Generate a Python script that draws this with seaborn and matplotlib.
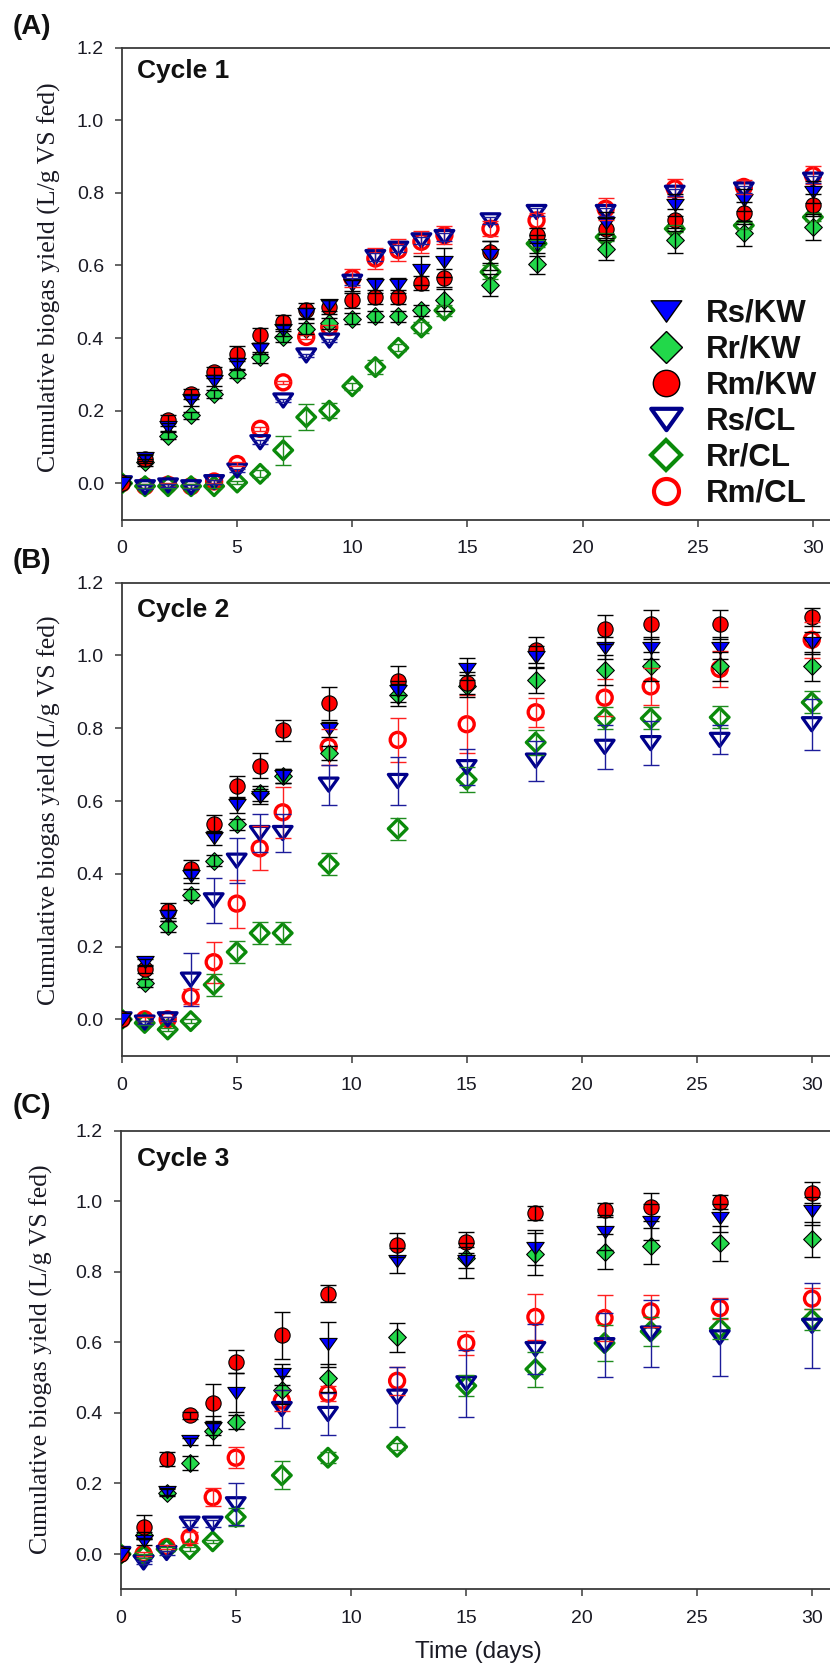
import numpy as np
import matplotlib
matplotlib.use("Agg")
import matplotlib.pyplot as plt
from matplotlib.lines import Line2D
from matplotlib.path import Path
from matplotlib.ticker import FormatStrFormatter
import seaborn as sns

sns.set_style("ticks")
plt.rcParams["font.family"] = ["Liberation Sans", "DejaVu Sans"]

# ---------------- data: cumulative biogas yield (L/g VS fed) ----------------
# Cycle 1
c1_days = [0, 1, 2, 3, 4, 5, 6, 7, 8, 9, 10, 11, 12, 13, 14, 16, 18, 21, 24, 27, 30]
c1_rs_kw = [0, 0.07, 0.155, 0.228, 0.283, 0.329, 0.37, 0.421, 0.467, 0.49, 0.545, 0.545, 0.545, 0.586, 0.609, 0.628, 0.655, 0.717, 0.766, 0.779, 0.802]
c1_rr_kw = [0, 0.058, 0.131, 0.187, 0.246, 0.301, 0.347, 0.403, 0.425, 0.44, 0.453, 0.46, 0.46, 0.476, 0.504, 0.545, 0.605, 0.646, 0.669, 0.688, 0.706]
c1_rm_kw = [0, 0.067, 0.173, 0.246, 0.306, 0.357, 0.407, 0.444, 0.476, 0.485, 0.504, 0.513, 0.513, 0.551, 0.565, 0.637, 0.683, 0.70, 0.726, 0.744, 0.766]
c1_rs_cl = [0, -0.011, -0.006, -0.011, 0.003, 0.035, 0.113, 0.228, 0.352, 0.393, 0.555, 0.623, 0.646, 0.669, 0.678, 0.724, 0.747, 0.747, 0.80, 0.809, 0.836]
c1_rr_cl = [0, -0.008, -0.008, -0.008, -0.008, 0.002, 0.026, 0.091, 0.182, 0.2, 0.267, 0.32, 0.373, 0.429, 0.476, 0.582, 0.66, 0.678, 0.701, 0.71, 0.733]
c1_rm_cl = [0, -0.008, -0.004, -0.008, 0.005, 0.053, 0.15, 0.278, 0.403, 0.43, 0.565, 0.619, 0.642, 0.665, 0.683, 0.701, 0.724, 0.756, 0.812, 0.816, 0.848]
c1_rs_kw_sd = [0, 0.01, 0.01, 0.015, 0.015, 0.015, 0.015, 0.015, 0.015, 0.015, 0.015, 0.02, 0.02, 0.04, 0.04, 0.04, 0.03, 0.03, 0.03, 0.03, 0.03]
c1_rr_kw_sd = [0, 0.01, 0.01, 0.01, 0.01, 0.01, 0.015, 0.015, 0.015, 0.015, 0.015, 0.015, 0.015, 0.015, 0.03, 0.03, 0.03, 0.03, 0.035, 0.035, 0.035]
c1_rm_kw_sd = [0, 0.01, 0.015, 0.015, 0.015, 0.02, 0.02, 0.02, 0.02, 0.02, 0.02, 0.02, 0.02, 0.02, 0.025, 0.03, 0.02, 0.03, 0.03, 0.03, 0.03]
c1_rs_cl_sd = [0, 0.005, 0.005, 0.005, 0.005, 0.005, 0.005, 0.005, 0.005, 0.005, 0.01, 0.01, 0.01, 0.01, 0.01, 0.01, 0.01, 0.01, 0.01, 0.01, 0.01]
c1_rr_cl_sd = [0, 0.005, 0.005, 0.005, 0.005, 0.005, 0.01, 0.04, 0.035, 0.02, 0.01, 0.02, 0.01, 0.015, 0.015, 0.02, 0.01, 0.01, 0.01, 0.01, 0.01]
c1_rm_cl_sd = [0, 0.005, 0.005, 0.005, 0.005, 0.005, 0.005, 0.005, 0.005, 0.005, 0.025, 0.03, 0.03, 0.03, 0.025, 0.02, 0.02, 0.03, 0.025, 0.02, 0.025]

# Cycle 2
c2_days = [0, 1, 2, 3, 4, 5, 6, 7, 9, 12, 15, 18, 21, 23, 26, 30]
c2_rs_kw = [0, 0.157, 0.285, 0.394, 0.498, 0.588, 0.612, 0.669, 0.797, 0.901, 0.963, 0.996, 1.02, 1.02, 1.02, 1.034]
c2_rr_kw = [0, 0.10, 0.256, 0.342, 0.436, 0.536, 0.621, 0.669, 0.732, 0.892, 0.915, 0.932, 0.96, 0.97, 0.97, 0.97]
c2_rm_kw = [0, 0.138, 0.299, 0.413, 0.536, 0.64, 0.697, 0.794, 0.868, 0.93, 0.925, 1.015, 1.072, 1.086, 1.086, 1.105]
c2_rs_cl = [0, -0.009, 0, 0.109, 0.327, 0.436, 0.512, 0.512, 0.645, 0.655, 0.693, 0.711, 0.749, 0.759, 0.768, 0.811]
c2_rr_cl = [0, -0.01, -0.028, -0.005, 0.095, 0.185, 0.237, 0.237, 0.427, 0.524, 0.659, 0.761, 0.827, 0.827, 0.83, 0.871]
c2_rm_cl = [0, 0, 0, 0.062, 0.157, 0.318, 0.47, 0.569, 0.749, 0.768, 0.811, 0.844, 0.884, 0.915, 0.963, 1.043]
c2_rs_kw_sd = [0, 0.01, 0.015, 0.02, 0.02, 0.02, 0.02, 0.02, 0.02, 0.03, 0.03, 0.03, 0.03, 0.03, 0.03, 0.03]
c2_rr_kw_sd = [0, 0.01, 0.015, 0.015, 0.015, 0.015, 0.02, 0.02, 0.02, 0.03, 0.03, 0.035, 0.04, 0.04, 0.04, 0.04]
c2_rm_kw_sd = [0, 0.01, 0.02, 0.025, 0.025, 0.03, 0.035, 0.03, 0.045, 0.04, 0.03, 0.035, 0.04, 0.04, 0.04, 0.025]
c2_rs_cl_sd = [0, 0.005, 0.005, 0.073, 0.062, 0.062, 0.053, 0.053, 0.055, 0.065, 0.05, 0.055, 0.06, 0.06, 0.04, 0.07]
c2_rr_cl_sd = [0, 0.005, 0.005, 0.005, 0.03, 0.03, 0.03, 0.03, 0.03, 0.03, 0.035, 0.035, 0.03, 0.03, 0.03, 0.03]
c2_rm_cl_sd = [0, 0.005, 0.005, 0.02, 0.056, 0.066, 0.06, 0.07, 0.05, 0.06, 0.08, 0.04, 0.05, 0.05, 0.05, 0.05]

# Cycle 3
c3_days = [0, 1, 2, 3, 4, 5, 7, 9, 12, 15, 18, 21, 23, 26, 30]
c3_rs_kw = [0, 0.036, 0.177, 0.319, 0.358, 0.457, 0.51, 0.594, 0.832, 0.832, 0.868, 0.912, 0.941, 0.952, 0.972]
c3_rr_kw = [0, 0.053, 0.174, 0.257, 0.35, 0.374, 0.466, 0.499, 0.614, 0.84, 0.851, 0.857, 0.873, 0.881, 0.892]
c3_rm_kw = [0, 0.077, 0.27, 0.394, 0.427, 0.545, 0.62, 0.738, 0.876, 0.884, 0.967, 0.974, 0.983, 0.997, 1.024]
c3_rs_cl = [0, -0.024, 0.003, 0.086, 0.086, 0.141, 0.411, 0.397, 0.446, 0.484, 0.581, 0.592, 0.625, 0.614, 0.647]
c3_rr_cl = [0, -0.005, 0.014, 0.014, 0.036, 0.105, 0.223, 0.273, 0.304, 0.477, 0.524, 0.598, 0.631, 0.639, 0.664]
c3_rm_cl = [0, 0.0, 0.02, 0.047, 0.161, 0.273, 0.435, 0.455, 0.491, 0.598, 0.672, 0.669, 0.688, 0.697, 0.724]
c3_rs_kw_sd = [0, 0.01, 0.01, 0.01, 0.02, 0.055, 0.03, 0.063, 0.035, 0.05, 0.05, 0.05, 0.05, 0.04, 0.04]
c3_rr_kw_sd = [0, 0.01, 0.01, 0.02, 0.04, 0.02, 0.04, 0.04, 0.04, 0.03, 0.06, 0.05, 0.05, 0.05, 0.05]
c3_rm_kw_sd = [0, 0.035, 0.02, 0.01, 0.055, 0.033, 0.067, 0.025, 0.035, 0.03, 0.02, 0.02, 0.04, 0.02, 0.03]
c3_rs_cl_sd = [0, 0.005, 0.005, 0.01, 0.01, 0.06, 0.055, 0.06, 0.085, 0.095, 0.07, 0.09, 0.095, 0.11, 0.12]
c3_rr_cl_sd = [0, 0.005, 0.005, 0.005, 0.005, 0.025, 0.04, 0.015, 0.01, 0.03, 0.05, 0.05, 0.04, 0.03, 0.03]
c3_rm_cl_sd = [0, 0.005, 0.005, 0.015, 0.025, 0.03, 0.03, 0.02, 0.04, 0.035, 0.065, 0.065, 0.045, 0.03, 0.03]

series_labels = ["Rs/KW", "Rr/KW", "Rm/KW", "Rs/CL", "Rr/CL", "Rm/CL"]
panel_labels = ["(A)", "(B)", "(C)"]
cycle_titles = ["Cycle 1", "Cycle 2", "Cycle 3"]
x_ticks = [0, 5, 10, 15, 20, 25, 30]
y_ticks = [0.0, 0.2, 0.4, 0.6, 0.8, 1.0, 1.2]
y_title = "Cumulative biogas yield (L/g VS fed)"
x_title = "Time (days)"

cycles = [
    (c1_days, {"Rs/KW": (c1_rs_kw, c1_rs_kw_sd), "Rr/KW": (c1_rr_kw, c1_rr_kw_sd),
               "Rm/KW": (c1_rm_kw, c1_rm_kw_sd), "Rs/CL": (c1_rs_cl, c1_rs_cl_sd),
               "Rr/CL": (c1_rr_cl, c1_rr_cl_sd), "Rm/CL": (c1_rm_cl, c1_rm_cl_sd)}),
    (c2_days, {"Rs/KW": (c2_rs_kw, c2_rs_kw_sd), "Rr/KW": (c2_rr_kw, c2_rr_kw_sd),
               "Rm/KW": (c2_rm_kw, c2_rm_kw_sd), "Rs/CL": (c2_rs_cl, c2_rs_cl_sd),
               "Rr/CL": (c2_rr_cl, c2_rr_cl_sd), "Rm/CL": (c2_rm_cl, c2_rm_cl_sd)}),
    (c3_days, {"Rs/KW": (c3_rs_kw, c3_rs_kw_sd), "Rr/KW": (c3_rr_kw, c3_rr_kw_sd),
               "Rm/KW": (c3_rm_kw, c3_rm_kw_sd), "Rs/CL": (c3_rs_cl, c3_rs_cl_sd),
               "Rr/CL": (c3_rr_cl, c3_rr_cl_sd), "Rm/CL": (c3_rm_cl, c3_rm_cl_sd)}),
]

# ---------------- marker styles ----------------
# wide, closed downward triangle
TRI = Path([(-1.0, 0.7), (1.0, 0.7), (0.0, -0.7), (-1.0, 0.7)], closed=True)
styles = {
    "Rs/KW": dict(marker=TRI, face="#0000ff", edge="#000000", lw=0.8, ms=12.5, ecolor="#000000", lms=22),
    "Rr/KW": dict(marker="D", face="#22d84a", edge="#000000", lw=0.8, ms=9.0, ecolor="#000000", lms=16),
    "Rm/KW": dict(marker="o", face="#ff0000", edge="#000000", lw=0.8, ms=11.0, ecolor="#000000", lms=19),
    "Rs/CL": dict(marker=TRI, face="none", edge="#00008b", lw=2.3, ms=13.5, ecolor="#1c1c9a", lms=22),
    "Rr/CL": dict(marker="D", face="none", edge="#0a8a0a", lw=2.4, ms=9.5, ecolor="#1e8c1e", lms=15),
    "Rm/CL": dict(marker="o", face="none", edge="#ff0000", lw=2.4, ms=10.8, ecolor="#ff2020", lms=18),
}
draw_order = ["Rm/CL", "Rr/CL", "Rs/CL", "Rr/KW", "Rm/KW", "Rs/KW"]

# ---------------- layout (pixel geometry) ----------------
W, H = 830, 1668
fig = plt.figure(figsize=(W / 100, H / 100), dpi=100)

XMAX = 32
panels = [  # left, top, bottom (px), px per day
    (122.0, 47.5, 519.6, 23.03),
    (121.7, 582.7, 1055.7, 23.0),
    (120.5, 1130.7, 1589.3, 23.05),
]
ylabel_pos = [(61, 277), (61, 810.5), (53, 1359.5)]
panel_label_y = [27, 561, 1106]
title_y = [71, 610, 1159]

text_col = "#1a1a24"
spine_col = "#3a3a3a"

axes = []
for i, ((left, top, bottom, ppd), (days, data)) in enumerate(zip(panels, cycles)):
    width = XMAX * ppd
    ax = fig.add_axes([left / W, 1 - bottom / H, width / W, (bottom - top) / H])
    axes.append(ax)
    x = np.asarray(days, dtype=float)

    for k, key in enumerate(draw_order):
        st = styles[key]
        vals, sd = data[key]
        vals = np.asarray(vals, dtype=float)
        sd = np.asarray(sd, dtype=float)
        if st["face"] == "none":
            sns.scatterplot(x=x, y=vals, ax=ax, marker=st["marker"], s=st["ms"] ** 2,
                            color=st["edge"], facecolor="none", edgecolor=st["edge"],
                            linewidth=st["lw"], zorder=3 + 0.1 * k, legend=False)
        else:
            sns.scatterplot(x=x, y=vals, ax=ax, marker=st["marker"], s=st["ms"] ** 2,
                            color=st["face"], edgecolor=st["edge"],
                            linewidth=st["lw"], zorder=3 + 0.1 * k, legend=False)
        mask = sd > 0
        ax.errorbar(x[mask], vals[mask], yerr=sd[mask], fmt="none", ecolor=st["ecolor"],
                    elinewidth=1.0, capsize=6, capthick=1.0, zorder=4 + 0.1 * k)

    ax.set_xlim(0, XMAX)
    ax.set_ylim(-0.1, 1.2)
    ax.set_xticks(x_ticks)
    ax.set_yticks(y_ticks)
    ax.yaxis.set_major_formatter(FormatStrFormatter("%.1f"))
    ax.set_xlabel("")
    ax.set_ylabel(y_title, fontfamily="Liberation Serif", fontsize=18.5, color=text_col)
    lx, ly = ylabel_pos[i]
    ax.yaxis.set_label_coords((lx - left) / width, (bottom - ly) / (bottom - top))
    ax.tick_params(axis="both", direction="out", length=5, width=1.1, color=spine_col,
                   labelsize=14, labelcolor=text_col)
    ax.tick_params(axis="y", pad=8)
    ax.tick_params(axis="x", pad=10)
    for side in ["left", "bottom", "top", "right"]:
        ax.spines[side].set_color(spine_col)
        ax.spines[side].set_linewidth(1.3)

    ax.text((137 - left) / width, (bottom - title_y[i]) / (bottom - top), cycle_titles[i],
            transform=ax.transAxes, fontsize=19, fontweight="bold", color="#111111",
            ha="left", va="center")
    fig.text(13 / W, 1 - panel_label_y[i] / H, panel_labels[i], fontsize=20,
             fontweight="bold", color="#111111", ha="left", va="center")

# legend in the first panel
handles = []
for key in series_labels:
    st = styles[key]
    handles.append(Line2D([], [], ls="none", marker=st["marker"], markersize=st["lms"],
                          markerfacecolor=st["face"], markeredgecolor=st["edge"],
                          markeredgewidth=(1.0 if st["face"] != "none" else 3.0)))
ax0 = axes[0]
left, top, bottom, ppd = panels[0]
leg = ax0.legend(handles, series_labels, loc="upper left",
                 bbox_to_anchor=((650 - left) / (XMAX * ppd), (bottom - 299) / (bottom - top)),
                 frameon=False, borderpad=0, borderaxespad=0, handlelength=1.0,
                 handletextpad=0.78, labelspacing=0.19,
                 prop={"family": "Liberation Sans", "weight": "bold", "size": 22.5})
for t in leg.get_texts():
    t.set_color("#111111")

fig.text(478 / W, 1 - 1652 / H, x_title, fontsize=17.5, color=text_col, ha="center", va="center")

fig.savefig("out.png", dpi=100)
